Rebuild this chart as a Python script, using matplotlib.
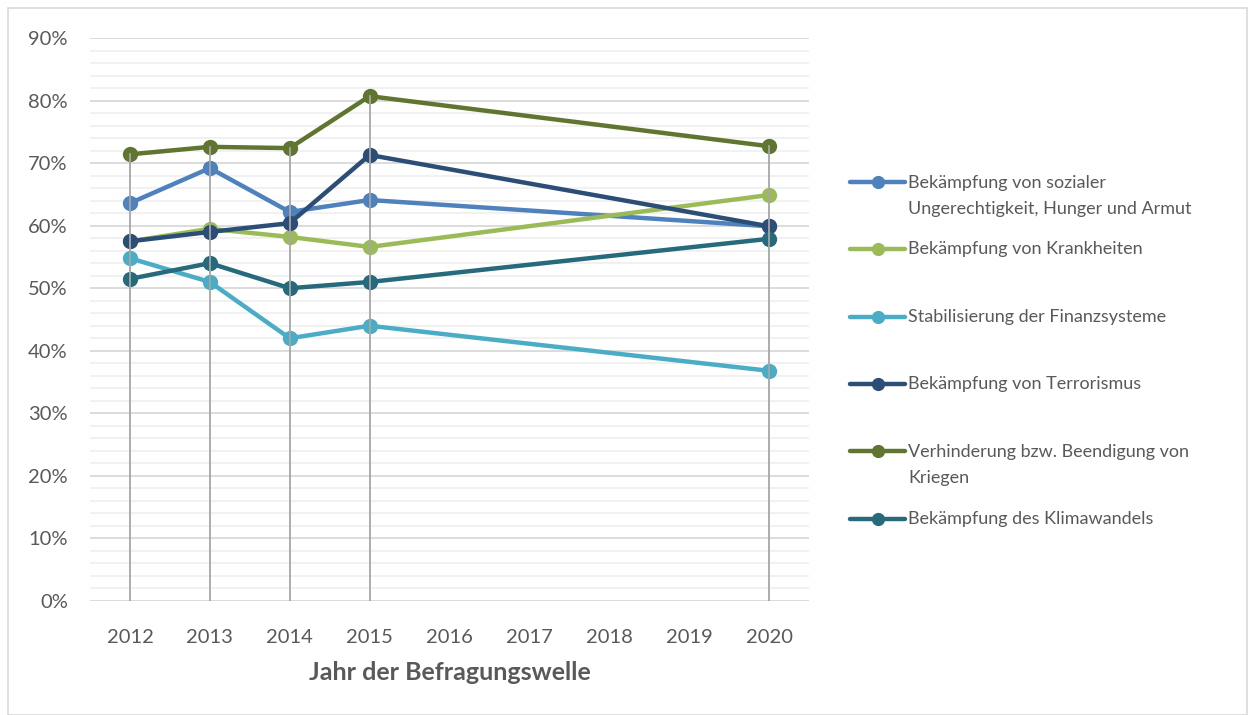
import matplotlib
matplotlib.use("Agg")
import matplotlib.pyplot as plt
from matplotlib.lines import Line2D
from matplotlib.patches import Rectangle
from matplotlib.ticker import MultipleLocator, PercentFormatter

plt.rcParams['font.family'] = ['Lato', 'DejaVu Sans']

categories = [2012, 2013, 2014, 2015, 2016, 2017, 2018, 2019, 2020]
years = [2012, 2013, 2014, 2015, 2020]

labels = [
    "Bekämpfung von sozialer\nUngerechtigkeit, Hunger und Armut",
    "Bekämpfung von Krankheiten",
    "Stabilisierung der Finanzsysteme",
    "Bekämpfung von Terrorismus",
    "Verhinderung bzw. Beendigung von\nKriegen",
    "Bekämpfung des Klimawandels",
]
sozial = [63.6, 69.2, 62.2, 64.1, 59.9]
krankheiten = [57.5, 59.5, 58.2, 56.6, 64.9]
finanz = [54.8, 51.0, 42.0, 44.0, 36.8]
terror = [57.5, 59.0, 60.4, 71.3, 59.9]
kriege = [71.4, 72.6, 72.4, 80.7, 72.7]
klima = [51.5, 54.0, 50.0, 51.0, 57.9]
series = [sozial, krankheiten, finanz, terror, kriege, klima]
colors = ["#4F81BD", "#9BBB59", "#4BACC6", "#2C4D75", "#5F7530", "#276A7C"]

W, H = 1249, 715
fig = plt.figure(figsize=(W / 100, H / 100), dpi=100)
ax = fig.add_axes([90 / W, 1 - 601 / H, (809 - 90) / W, (601 - 38) / H])

ax.set_xlim(2011.5, 2020.5)
ax.set_ylim(0, 90)
ax.yaxis.set_major_locator(MultipleLocator(10))
ax.yaxis.set_minor_locator(MultipleLocator(2))
ax.yaxis.set_major_formatter(PercentFormatter(decimals=0))
ax.set_xticks(categories)
ax.set_xticklabels([str(c) for c in categories])
ax.grid(which='minor', axis='y', color='#F0F0F0', lw=1.3, zorder=0)
ax.grid(which='major', axis='y', color='#D9D9D9', lw=1.3, zorder=0)
for s in ax.spines.values():
    s.set_visible(False)
ax.tick_params(which='both', length=0)
ax.tick_params(axis='y', labelsize=14.5, labelcolor='#595959', pad=16)
ax.tick_params(axis='x', labelsize=14.5, labelcolor='#595959', pad=20)
ax.set_xlabel("Jahr der Befragungswelle", fontsize=18, fontweight='bold',
              color='#595959', labelpad=11)

for vals, col in zip(series, colors):
    ax.plot(years, vals, color=col, lw=3.2, marker='o', ms=10,
            solid_capstyle='round', zorder=3)

# drop lines
for i, yr in enumerate(years):
    top = max(s[i] for s in series)
    ax.plot([yr, yr], [0, top], color='#A6A6A6', lw=1.3, zorder=4)

# legend
leg_y = [182, 249, 317, 384, 451, 519]
for lab, col, y in zip(labels, colors, leg_y):
    fy = 1 - y / H
    fig.add_artist(Line2D([850 / W, 905 / W], [fy, fy], color=col, lw=3.2,
                          solid_capstyle='round'))
    fig.add_artist(Line2D([877.5 / W], [fy], color=col, marker='o', ms=8.5))
    if '\n' in lab:
        fig.text(908 / W, fy - 14 / H, lab, fontsize=13, color='#595959',
                 va='center', ha='left', linespacing=1.7)
    else:
        fig.text(908 / W, fy, lab, fontsize=13, color='#595959', va='center')

fig.add_artist(Rectangle((8 / W, 0), (1247 - 8) / W, 1 - 8 / H,
                         transform=fig.transFigure, fill=False,
                         edgecolor='#D9D9D9', lw=1.2))

fig.savefig("out.png", dpi=100)
